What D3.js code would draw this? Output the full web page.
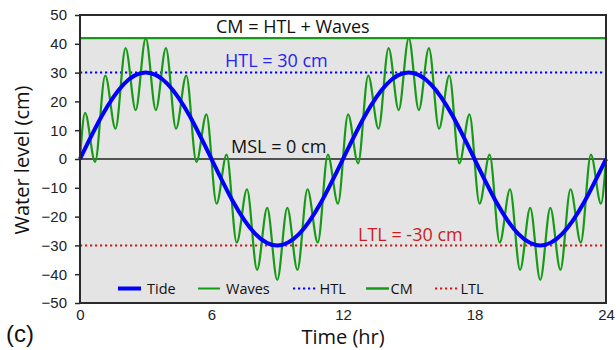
<!DOCTYPE html>
<html>
<head>
<meta charset="utf-8">
<script src="https://cdn.jsdelivr.net/npm/d3@7"></script>
<style>
  body { margin: 0; background: #fff; }
  svg { display: block; }
  .tick text { font-family: "Liberation Sans", Arial, sans-serif; font-size: 15px; fill: #222; }
  .lbl { font-family: "Open Sans", sans-serif; }
</style>
</head>
<body>
<svg width="616" height="350"></svg>
<script>
// tide curve
const tideHours  = [0, 1, 2, 3, 4, 5, 6, 7, 8, 9, 10, 11, 12,
                    13, 14, 15, 16, 17, 18, 19, 20, 21, 22, 23, 24];
const tideLevels = [0, 15, 26, 30, 26, 15, 0, -15, -26, -30, -26, -15, 0,
                    15, 26, 30, 26, 15, 0, -15, -26, -30, -26, -15, 0];

// waves (tide + short waves): crests and troughs
const waveHours = [0, 0.23, 0.69, 1.15, 1.62, 2.08, 2.54, 3.0, 3.46, 3.92, 4.38, 4.85, 5.31,
                   5.77, 6.23, 6.69, 7.15, 7.62, 8.08, 8.54, 9.0, 9.46, 9.92, 10.38, 10.85,
                   11.31, 11.77, 12.23, 12.69, 13.15, 13.62, 14.08, 14.54, 15.0, 15.46, 15.92,
                   16.38, 16.85, 17.31, 17.77, 18.23, 18.69, 19.15, 19.62, 20.08, 20.54, 21.0,
                   21.46, 21.92, 22.38, 22.85, 23.31, 23.77, 24];
const waveLevels = [0, 16, -1, 29, 10.5, 38.5, 17, 42, 17, 38.5, 10.5, 29, -1,
                    15.5, -15.5, 1.5, -29, -10.5, -38.5, -17, -42, -17, -38.5, -10.5, -29,
                    1.5, -15.5, 15.5, -1.5, 29, 10.5, 38.5, 17, 42, 17, 38.5,
                    10.5, 29, -1.5, 15.5, -15.5, 1.5, -29, -10.5, -38.5, -17, -42,
                    -17, -38.5, -10.5, -29, 1.5, -15.5, 0];

// reference levels
const cmLevel = 42, htlLevel = 30, mslLevel = 0, ltlLevel = -30;

const xTicks = [0, 6, 12, 18, 24];
const yTicks = [-50, -40, -30, -20, -10, 0, 10, 20, 30, 40, 50];

const legendNames = ["Tide", "Waves", "HTL", "CM", "LTL"];

const blue = "#0000ff", green = "#169a16", red = "#c81e1e", textBlue = "#2424f0";

const svg = d3.select("svg");
const x0 = 80, x1 = 606, y0 = 15, y1 = 303;

const x = d3.scaleLinear().domain([0, 24]).range([x0, x1]);
const y = d3.scaleLinear().domain([-50, 50]).range([y1, y0]);

// grey band below the CM line
svg.append("rect")
  .attr("x", x0).attr("y", y(cmLevel))
  .attr("width", x1 - x0).attr("height", y(-50) - y(cmLevel))
  .attr("fill", "#e4e4e4");

// reference lines
svg.append("line")
  .attr("x1", x0).attr("x2", x1)
  .attr("y1", y(mslLevel)).attr("y2", y(mslLevel))
  .attr("stroke", "#222").attr("stroke-width", 1.6);

svg.append("line")
  .attr("x1", x0).attr("x2", x1)
  .attr("y1", y(htlLevel)).attr("y2", y(htlLevel))
  .attr("stroke", blue).attr("stroke-width", 2).attr("stroke-dasharray", "2.2,2.8");

svg.append("line")
  .attr("x1", x0).attr("x2", x1)
  .attr("y1", y(ltlLevel)).attr("y2", y(ltlLevel))
  .attr("stroke", red).attr("stroke-width", 2).attr("stroke-dasharray", "2.2,2.8");

svg.append("line")
  .attr("x1", x0).attr("x2", x1)
  .attr("y1", y(cmLevel)).attr("y2", y(cmLevel))
  .attr("stroke", green).attr("stroke-width", 2.2);

// series
const waveLine = d3.line()
  .x((d, i) => x(waveHours[i]))
  .y(d => y(d))
  .curve(d3.curveMonotoneX);

svg.append("path")
  .datum(waveLevels)
  .attr("d", waveLine)
  .attr("fill", "none")
  .attr("stroke", green)
  .attr("stroke-width", 2.2);

const tideLine = d3.line()
  .x((d, i) => x(tideHours[i]))
  .y(d => y(d))
  .curve(d3.curveNatural);

svg.append("path")
  .datum(tideLevels)
  .attr("d", tideLine)
  .attr("fill", "none")
  .attr("stroke", blue)
  .attr("stroke-width", 4);

// in-plot labels
const label = (txt, xx, yy, color) => svg.append("text")
  .attr("class", "lbl")
  .attr("x", xx).attr("y", yy)
  .attr("font-size", 18)
  .attr("fill", color)
  .text(txt);

label("CM = HTL + Waves", 216, 33, "#111");
label("HTL = 30 cm", 225, 66.5, textBlue);
label("MSL = 0 cm", 231, 153, "#111");
label("LTL = -30 cm", 358, 241, red);

// legend
const legendX = [118, 198, 293, 366, 435];
const legendLen = [23, 22, 25, 23, 24];
const legendStyle = [
  {stroke: blue, width: 4, dash: null},
  {stroke: green, width: 2, dash: null},
  {stroke: blue, width: 2, dash: "2.2,2.8"},
  {stroke: green, width: 2.5, dash: null},
  {stroke: red, width: 2, dash: "2.2,2.8"}
];
const ly = 288.5;

const leg = svg.append("g")
  .selectAll("g")
  .data(legendNames)
  .join("g");

leg.append("line")
  .attr("x1", (d, i) => legendX[i])
  .attr("x2", (d, i) => legendX[i] + legendLen[i])
  .attr("y1", ly).attr("y2", ly)
  .attr("stroke", (d, i) => legendStyle[i].stroke)
  .attr("stroke-width", (d, i) => legendStyle[i].width)
  .attr("stroke-dasharray", (d, i) => legendStyle[i].dash);

leg.append("text")
  .attr("class", "lbl")
  .attr("x", (d, i) => legendX[i] + legendLen[i] + (i < 2 ? 6 : 1.5))
  .attr("y", ly + 5.3)
  .attr("font-size", 14.5)
  .attr("fill", "#111")
  .text(d => d);

// frame
svg.append("rect")
  .attr("x", x0).attr("y", y0)
  .attr("width", x1 - x0).attr("height", y1 - y0)
  .attr("fill", "none")
  .attr("stroke", "#2a2a2a")
  .attr("stroke-width", 2);

// axes
const yAxis = svg.append("g")
  .attr("transform", `translate(${x0},0)`)
  .call(d3.axisLeft(y).tickValues(yTicks).tickSize(5).tickPadding(8));
yAxis.select(".domain").remove();
yAxis.selectAll(".tick line").attr("stroke", "#2a2a2a").attr("stroke-width", 1.5);

const xAxis = svg.append("g")
  .attr("transform", `translate(0,${y1})`)
  .call(d3.axisBottom(x).tickValues(xTicks).tickSize(0).tickPadding(6));
xAxis.select(".domain").remove();

// axis titles
svg.append("text")
  .attr("class", "lbl")
  .attr("x", (x0 + x1) / 2).attr("y", 344)
  .attr("text-anchor", "middle")
  .attr("font-size", 20)
  .attr("fill", "#111")
  .text("Time (hr)");

svg.append("text")
  .attr("class", "lbl")
  .attr("transform", "translate(29,160) rotate(-90)")
  .attr("text-anchor", "middle")
  .attr("font-size", 20)
  .attr("fill", "#111")
  .text("Water level (cm)");

svg.append("text")
  .attr("x", 6).attr("y", 342)
  .attr("font-family", "Liberation Sans, Arial, sans-serif")
  .attr("font-size", 24)
  .attr("fill", "#111")
  .text("(c)");
</script>
</body>
</html>
